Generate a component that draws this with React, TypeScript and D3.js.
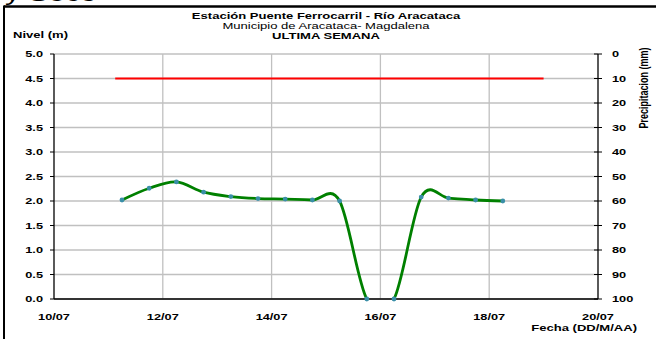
import React from "react";
import * as d3 from "d3";

const levelTimes = [
  "2023-07-11T06:00", "2023-07-11T18:00", "2023-07-12T06:00", "2023-07-12T18:00",
  "2023-07-13T06:00", "2023-07-13T18:00", "2023-07-14T06:00", "2023-07-14T18:00",
  "2023-07-15T06:00", "2023-07-15T18:00", "2023-07-16T06:00", "2023-07-16T18:00",
  "2023-07-17T06:00", "2023-07-17T18:00", "2023-07-18T06:00",
];
const levelValues = [2.02, 2.26, 2.39, 2.18, 2.09, 2.05, 2.04, 2.02, 2.0, 0, 0, 2.08, 2.06, 2.02, 2.0];

const thresholdTimes = ["2023-07-11T03:00", "2023-07-19T00:00"];
const thresholdValue = 4.5;

const xTickDates = ["2023-07-10", "2023-07-12", "2023-07-14", "2023-07-16", "2023-07-18", "2023-07-20"];
const xTickLabels = ["10/07", "12/07", "14/07", "16/07", "18/07", "20/07"];
const yTicks = [0, 0.5, 1, 1.5, 2, 2.5, 3, 3.5, 4, 4.5, 5];
const precipTicks = [0, 10, 20, 30, 40, 50, 60, 70, 80, 90, 100];

const titleLines = ["Estación Puente Ferrocarril - Río Aracataca", "Municipio de Aracataca- Magdalena", "ULTIMA SEMANA"];

const W = 656, H = 339;
const L = 54, R = 598, T = 54, B = 299;
const SX = 1.5;
const FONT = "'Liberation Sans', Arial, sans-serif";

const parse = (s: string) => new Date(s);

function SText({ x, y, size = 8.5, weight = "bold", anchor = "start", rotate = 0, children }: any) {
  const tr = rotate
    ? `translate(${x},${y}) rotate(${rotate}) scale(1,${SX})`
    : `translate(${x},${y}) scale(${SX},1)`;
  return (
    <g transform={tr}>
      <text fontFamily={FONT} fontSize={size} fontWeight={weight} textAnchor={anchor} fill="#000">
        {children}
      </text>
    </g>
  );
}

export default function App() {
  const x = d3.scaleTime().domain([parse("2023-07-10"), parse("2023-07-20")]).range([L, R]);
  const y = d3.scaleLinear().domain([0, 5]).range([B, T]);
  const yP = d3.scaleLinear().domain([0, 100]).range([T, B]);

  const pts = levelTimes.map((t, i) => [x(parse(t)), y(levelValues[i])] as [number, number]);
  const line = d3.line().curve(d3.curveCardinal.tension(0));
  const path = line(pts) || "";

  return (
    <svg width={W} height={H} style={{ position: "absolute", left: 0, top: 0, background: "#fff" }}>
      <defs>
        <clipPath id="plotclip">
          <rect x={L} y={T} width={R - L} height={B - T} />
        </clipPath>
      </defs>
      <rect x={0} y={0} width={W} height={H} fill="#fff" />
      <SText x={5} y={1} size={20} weight="normal">y Seco</SText>
      <line x1={4} x2={W} y1={6.5} y2={6.5} stroke="#000" strokeWidth={2.5} />
      <line x1={4} x2={4} y1={5.5} y2={H} stroke="#000" strokeWidth={2} />

      {yTicks.map((v) => (
        <line key={"gy" + v} x1={L} x2={R} y1={y(v)} y2={y(v)} stroke="#c0c0c0" strokeWidth={1.3} />
      ))}
      {xTickDates.slice(1, -1).map((d) => (
        <line key={"gx" + d} x1={x(parse(d))} x2={x(parse(d))} y1={T} y2={B} stroke="#c0c0c0" strokeWidth={1.3} />
      ))}

      <line
        x1={x(parse(thresholdTimes[0]))}
        x2={x(parse(thresholdTimes[1]))}
        y1={y(thresholdValue)}
        y2={y(thresholdValue)}
        stroke="#ff0000"
        strokeWidth={2}
      />

      <line x1={L} x2={L} y1={T} y2={B} stroke="#000" strokeWidth={1.3} />
      <line x1={R} x2={R} y1={T} y2={B} stroke="#000" strokeWidth={1.3} />
      <line x1={L} x2={R} y1={B} y2={B} stroke="#000" strokeWidth={1.3} />
      {yTicks.map((v) => (
        <line key={"ty" + v} x1={L - 4} x2={L} y1={y(v)} y2={y(v)} stroke="#000" strokeWidth={1} />
      ))}
      {precipTicks.map((v) => (
        <line key={"tp" + v} x1={R - 4} x2={R + 4} y1={yP(v)} y2={yP(v)} stroke="#000" strokeWidth={1} />
      ))}

      <g clipPath="url(#plotclip)">
        <path d={path} fill="none" stroke="#008000" strokeWidth={2.8} />
      </g>
      {pts.map((p, i) => (
        <circle key={"pt" + i} cx={p[0]} cy={p[1]} r={2.4} fill="#3a8fa8" />
      ))}

      {yTicks.map((v) => (
        <SText key={"ly" + v} x={43} y={y(v) + 3} anchor="end">{v.toFixed(1)}</SText>
      ))}
      {precipTicks.map((v) => (
        <SText key={"lp" + v} x={612} y={yP(v) + 3} anchor="start">{v}</SText>
      ))}
      {xTickDates.map((d, i) => (
        <SText key={"lx" + d} x={x(parse(d))} y={320} anchor="middle">{xTickLabels[i]}</SText>
      ))}

      <SText x={326} y={19} size={8.7} anchor="middle">{titleLines[0]}</SText>
      <SText x={326} y={29} size={8.7} weight="normal" anchor="middle">{titleLines[1]}</SText>
      <SText x={326} y={39} size={8.7} anchor="middle">{titleLines[2]}</SText>

      <SText x={13} y={38} size={8.7}>Nivel (m)</SText>
      <SText x={637} y={331} size={8.7} anchor="end">Fecha (DD/M/AA)</SText>
      <SText x={648} y={88} size={9} rotate={-90} anchor="middle">Precipitacion (mm)</SText>
    </svg>
  );
}
